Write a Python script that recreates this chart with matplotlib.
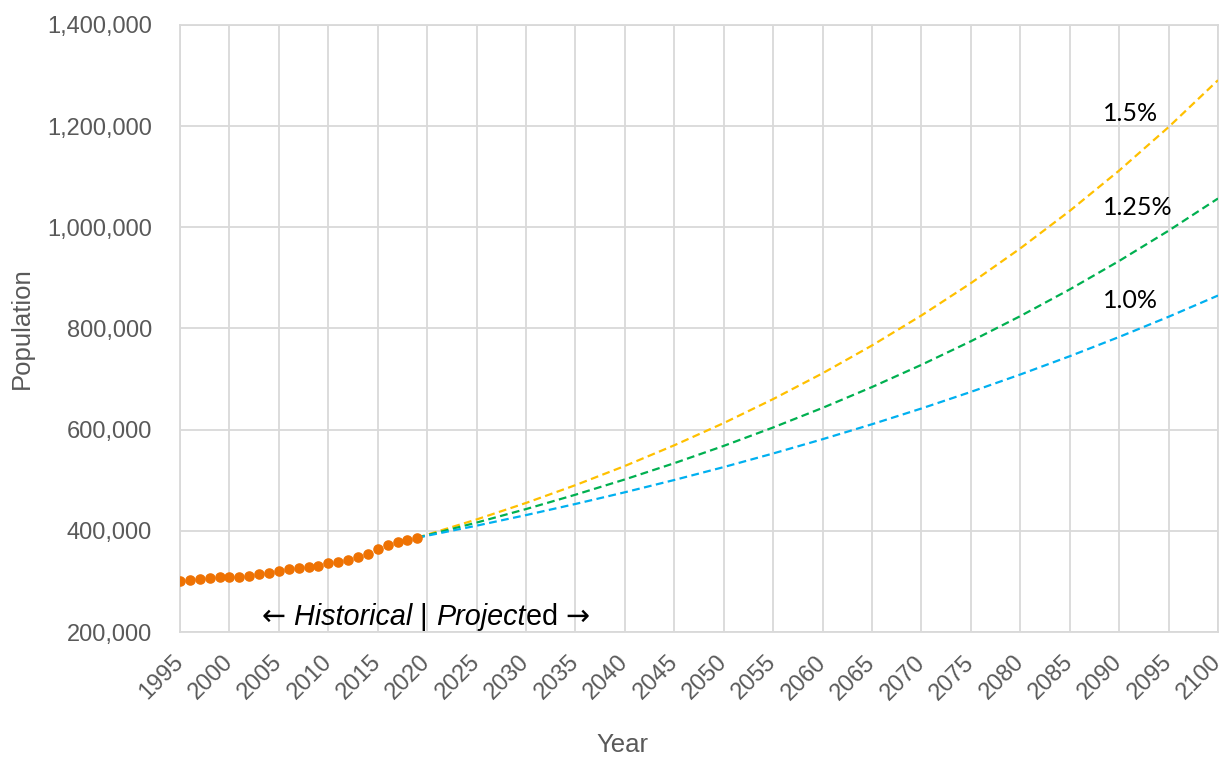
import numpy as np
import matplotlib.pyplot as plt
from matplotlib.ticker import FuncFormatter, MultipleLocator

# historical population, 1995-2019
hist_years = list(range(1995, 2020))
hist_pop = [
    300800, 302000, 304800, 306800, 308100, 308100, 309300, 311300, 314700, 317300,
    321200, 323900, 325900, 329100, 331100, 335800, 338400, 342300, 347600, 354200,
    364100, 372000, 377300, 381200, 386400,
]

# projected population under three growth rates
proj_years = [2019, 2025, 2030, 2035, 2040, 2045, 2050, 2055, 2060,
              2065, 2070, 2075, 2080, 2085, 2090, 2095, 2100]
proj_10 = [386400, 410200, 431100, 453100, 476200, 500500, 526000, 552900, 581100,
           610700, 641800, 674600, 709000, 745100, 783200, 823100, 865100]
proj_125 = [386400, 416300, 443000, 471400, 501600, 533700, 567900, 604300, 643000,
            684200, 728100, 774700, 824400, 877200, 933400, 993200, 1056900]
proj_15 = [386400, 422500, 455100, 490300, 528200, 569100, 613000, 660400, 711400,
           766400, 825700, 889500, 958200, 1032300, 1112100, 1198000, 1290700]

rate_labels = ["1.5%", "1.25%", "1.0%"]
label_pos = [(2088.4, 1224000), (2088.4, 1040000), (2088.4, 856000)]

GRID = "#d9d9d9"
GRAY = "#595959"
SANS = ["Liberation Sans", "DejaVu Sans"]

plt.rcParams["font.family"] = SANS

fig = plt.figure(figsize=(12.23, 7.57), dpi=100)
ax = fig.add_axes([0.1472, 0.1651, 0.8487, 0.802])

dash = (0, (3.5, 2))
ax.plot(proj_years, proj_15, color="#FFC000", lw=1.6, ls=dash, zorder=3)
ax.plot(proj_years, proj_125, color="#00B050", lw=1.6, ls=dash, zorder=3)
ax.plot(proj_years, proj_10, color="#00B0F0", lw=1.6, ls=dash, zorder=3)
ax.plot(hist_years, hist_pop, ls="none", marker="o", ms=6.6,
        color="#EE7203", mec="#EE7203", zorder=4)

ax.set_xlim(1995, 2100)
ax.set_ylim(200000, 1400000)
ax.xaxis.set_major_locator(MultipleLocator(5))
ax.yaxis.set_major_locator(MultipleLocator(200000))
ax.yaxis.set_major_formatter(FuncFormatter(lambda v, p: f"{int(v):,}"))

ax.grid(True, color=GRID, lw=1.3)
ax.set_axisbelow(True)
for s in ax.spines.values():
    s.set_color(GRID)
    s.set_linewidth(1.3)

ax.tick_params(axis="both", length=0, colors=GRAY, labelsize=17)
ax.tick_params(axis="y", pad=20)
ax.tick_params(axis="x", pad=19.5)
for lbl in ax.get_xticklabels():
    lbl.set_rotation(45)
    lbl.set_ha("right")
    lbl.set_va("center")
    lbl.set_rotation_mode("anchor")

# axis titles placed in figure pixels
fig.text(22 / 1223, 1 - 328 / 757, "Population", rotation=90, fontsize=18.5,
         color=GRAY, ha="center", va="center")
fig.text(622 / 1223, 1 - 745 / 757, "Year", fontsize=18.5,
         color=GRAY, ha="center", va="center")

for txt, (x, y) in zip(rate_labels, label_pos):
    ax.text(x, y, txt, fontsize=18, family=["Lato", "DejaVu Sans"],
            color="black", ha="left", va="center")

# "← Historical | Projected →", pieces chained one after the other
ARROW = ["DejaVu Sans"]
pieces = [("\u2190", "normal", ARROW), (" Historical", "italic", SANS),
          (" | ", "normal", SANS), ("Project", "italic", SANS),
          ("ed ", "normal", SANS), ("\u2192", "normal", ARROW)]
prev = ax.text(2003.3, 214500, pieces[0][0], fontsize=20.7, style=pieces[0][1],
               family=pieces[0][2], ha="left", va="baseline", color="black")
for txt, sty, fam in pieces[1:]:
    prev = ax.annotate(txt, xy=(1, 0), xycoords=prev, fontsize=20.7, style=sty,
                       family=fam, ha="left", va="bottom", color="black")

fig.savefig("out.png", dpi=100)
